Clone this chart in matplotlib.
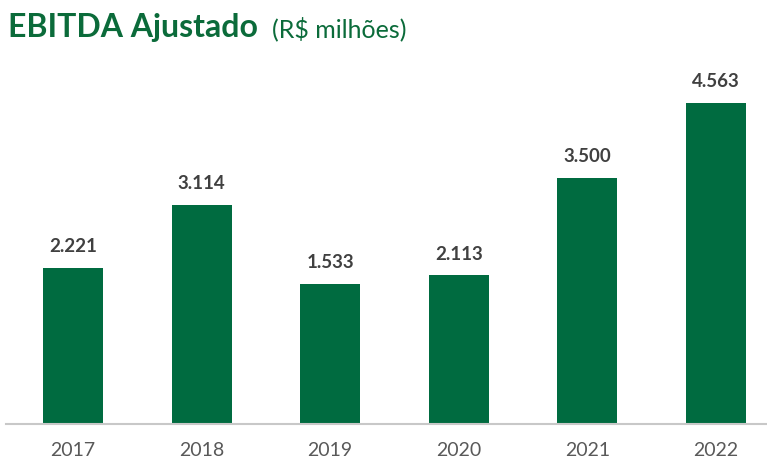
import matplotlib.pyplot as plt

# EBITDA Ajustado (R$ milhões)
years = ["2017", "2018", "2019", "2020", "2021", "2022"]
# bar heights as drawn in the source chart (2019 bar is drawn taller than its label)
bar_heights = [2221, 3114, 1990, 2113, 3500, 4563]
labels = ["2.221", "3.114", "1.533", "2.113", "3.500", "4.563"]

GREEN = "#006B40"
TITLE_GREEN = "#0B6B3A"

plt.rcParams['font.family'] = ['Lato', 'DejaVu Sans']

fig = plt.figure(figsize=(7.67, 4.61), dpi=100)
ax = fig.add_axes([6 / 767, 1 - 424 / 461, 1 - 6 / 767, (424 - 60) / 461])

x = list(range(len(years)))
ax.bar(x, bar_heights, width=0.467, color=GREEN, zorder=2)

for xi, v, lab in zip(x, bar_heights, labels):
    ax.annotate(lab, (xi, v), xytext=(0, 9), textcoords="offset points",
                ha="center", va="bottom", fontsize=13.5, fontweight="bold",
                color="#404040")

ax.set_xlim(-0.521, 5.397)
ax.set_ylim(0, 5174)
ax.set_xticks(x)
ax.set_xticklabels(years, fontsize=14, color="#595959")
ax.tick_params(axis="x", length=0, pad=13)
ax.set_yticks([])
for side in ["top", "right", "left"]:
    ax.spines[side].set_visible(False)
ax.spines["bottom"].set_color("#C8C8C8")
ax.spines["bottom"].set_linewidth(1.5)

fig.text(8 / 767, 1 - 37 / 461, "EBITDA Ajustado", fontsize=23, fontweight="bold",
         color=TITLE_GREEN, ha="left", va="baseline")
fig.text(272 / 767, 1 - 37 / 461, "(R$ milhões)", fontsize=18,
         color=TITLE_GREEN, ha="left", va="baseline")

fig.savefig("out.png", dpi=100)
